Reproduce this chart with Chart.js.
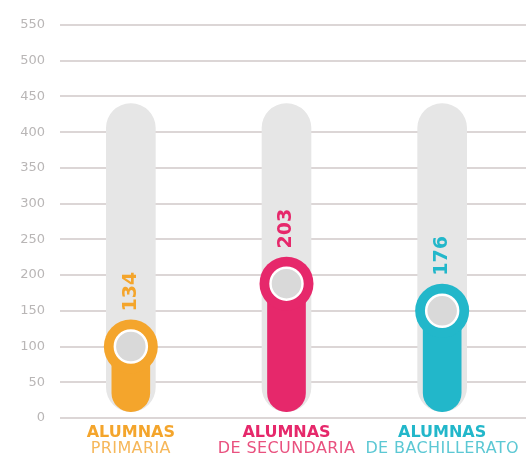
<!DOCTYPE html>
<html>
<head>
<meta charset="utf-8">
<script src="https://cdn.jsdelivr.net/npm/chart.js@4"></script>
<style>
  html, body { margin: 0; padding: 0; background: #fff; }
  #wrap { width: 526px; height: 459px; }
</style>
</head>
<body>
<div id="wrap"><canvas id="alumnas-chart"></canvas></div>
<script>
const labelTop = ['ALUMNAS', 'ALUMNAS', 'ALUMNAS']
const labelBottom = ['PRIMARIA', 'DE SECUNDARIA', 'DE BACHILLERATO']
// numbers printed above each marker
const shownValues = [134, 203, 176]
// where each coloured bar / marker actually sits on the axis
const barLevels = [100, 188, 150]
const trackFrom = [9, 9, 9]
const trackTo = [440, 440, 440]
const yMin = 0
const yMax = 550
const yStep = 50

const mainColors = ['#f4a52c', '#e6286b', '#22b7ca']
const lightColors = ['#f6b75a', '#e9517f', '#5cc8d4']

const gridLines = {
  id: 'gridLines',
  beforeDatasetsDraw(chart) {
    const { ctx, scales: { y } } = chart
    ctx.save()
    ctx.strokeStyle = '#d0c9c9'
    ctx.lineWidth = 1.6
    y.ticks.forEach(t => {
      const py = Math.round(y.getPixelForValue(t.value))
      ctx.beginPath()
      ctx.moveTo(60, py)
      ctx.lineTo(chart.width, py)
      ctx.stroke()
    })
    ctx.restore()
  }
}

const valueLabels = {
  id: 'valueLabels',
  afterDatasetsDraw(chart) {
    const { ctx, scales: { x, y } } = chart
    ctx.save()
    ctx.font = 'bold 19px "DejaVu Sans"'
    ctx.textAlign = 'center'
    ctx.textBaseline = 'middle'
    shownValues.forEach((v, i) => {
      const px = x.getPixelForValue(i)
      const py = y.getPixelForValue(barLevels[i]) - 55
      ctx.save()
      ctx.translate(px, py)
      ctx.rotate(-Math.PI / 2)
      ctx.fillStyle = mainColors[i]
      ctx.fillText(String(v), 0, 0)
      ctx.restore()
    })
    ctx.restore()
  }
}

const categoryLabels = {
  id: 'categoryLabels',
  afterDraw(chart) {
    const { ctx, chartArea, scales: { x } } = chart
    ctx.save()
    ctx.textAlign = 'center'
    ctx.textBaseline = 'middle'
    labelTop.forEach((t, i) => {
      const px = x.getPixelForValue(i)
      ctx.fillStyle = mainColors[i]
      ctx.font = 'bold 16px "DejaVu Sans"'
      ctx.letterSpacing = '0px'
      ctx.fillText(t, px, chartArea.bottom + 15)
      ctx.fillStyle = lightColors[i]
      ctx.font = '16px "DejaVu Sans"'
      ctx.letterSpacing = '0.4px'
      ctx.fillText(labelBottom[i], px, chartArea.bottom + 31)
    })
    ctx.restore()
  }
}

const data = {
  labels: labelBottom,
  datasets: [
    {
      type: 'line',
      data: barLevels,
      showLine: false,
      pointRadius: 16,
      pointHoverRadius: 16,
      pointBackgroundColor: '#d9d9d9',
      pointBorderColor: '#ffffff',
      pointBorderWidth: 2.5,
      order: 1
    },
    {
      type: 'line',
      data: barLevels,
      showLine: false,
      pointRadius: 27,
      pointHoverRadius: 27,
      pointBackgroundColor: mainColors,
      pointBorderWidth: 0,
      order: 2
    },
    {
      type: 'bar',
      data: barLevels.map((v, i) => [trackFrom[i], v]),
      backgroundColor: mainColors,
      barThickness: 38,
      borderRadius: { bottomLeft: 19, bottomRight: 19, topLeft: 0, topRight: 0 },
      borderSkipped: false,
      grouped: false,
      order: 3
    },
    {
      type: 'bar',
      data: trackTo.map((v, i) => [trackFrom[i], v]),
      backgroundColor: '#e6e6e6',
      barThickness: 49,
      borderRadius: 25,
      borderSkipped: false,
      grouped: false,
      order: 4
    }
  ]
}

const config = {
  data: data,
  plugins: [gridLines, valueLabels, categoryLabels],
  options: {
    responsive: true,
    maintainAspectRatio: false,
    animation: false,
    layout: { autoPadding: false, padding: { top: 25, right: 6, bottom: 33, left: 0 } },
    scales: {
      x: {
        offset: true,
        grid: { display: false },
        border: { display: false },
        ticks: { display: false }
      },
      y: {
        min: yMin,
        max: yMax,
        grid: { display: false, drawTicks: false },
        border: { display: false },
        ticks: {
          stepSize: yStep,
          padding: 8,
          color: '#b9b6b6',
          font: { family: 'DejaVu Sans', size: 13 }
        },
        afterFit: s => { s.width = 53 }
      }
    },
    plugins: {
      legend: { display: false },
      title: { display: false },
      tooltip: { enabled: false }
    }
  }
}

let chart = new Chart(document.getElementById('alumnas-chart').getContext('2d'), config)
</script>
</body>
</html>
